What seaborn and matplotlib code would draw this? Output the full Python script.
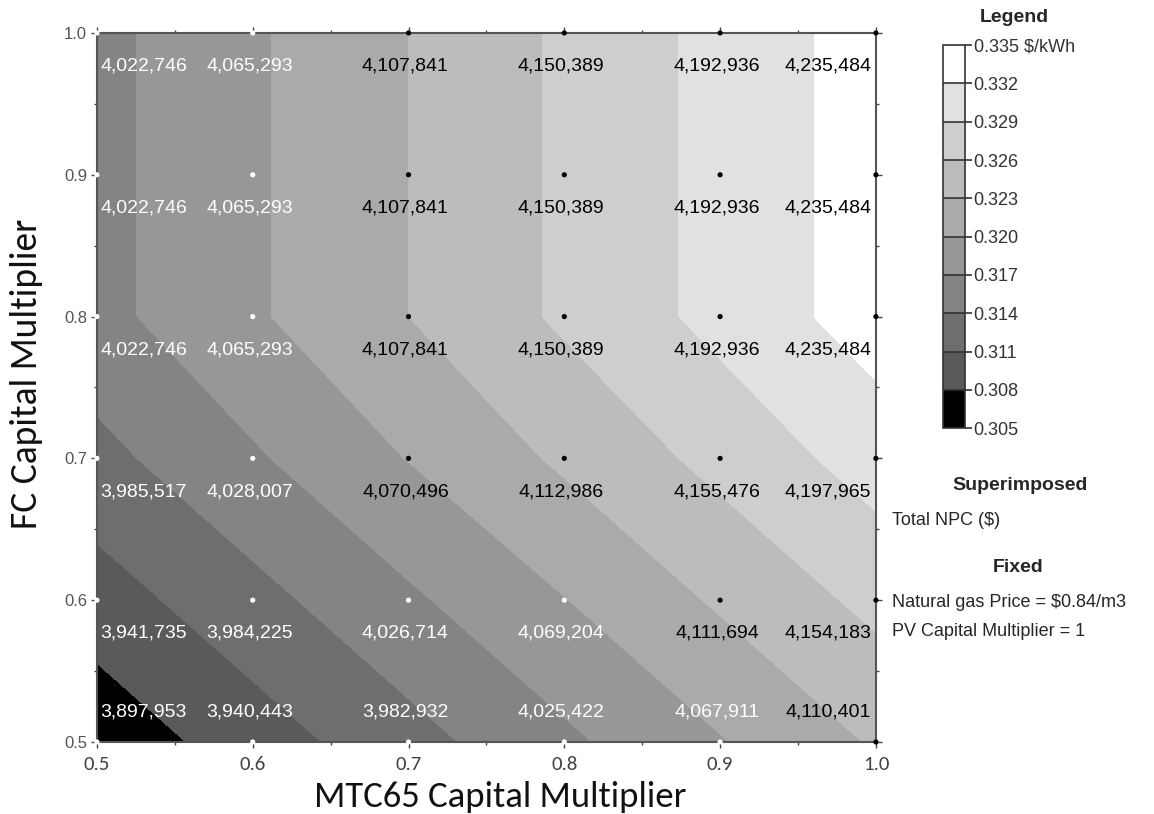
import numpy as np
import pandas as pd
import matplotlib
matplotlib.use("Agg")
import matplotlib.pyplot as plt
import seaborn as sns
from matplotlib.colors import ListedColormap, BoundaryNorm
from matplotlib.ticker import MultipleLocator

# Sensitivity grid: MTC65 capital multiplier (x) vs FC capital multiplier (y)
mtc_mult = [0.5, 0.6, 0.7, 0.8, 0.9, 1.0]
fc_mult = [0.5, 0.6, 0.7, 0.8, 0.9, 1.0]

# Total NPC ($), one row per FC multiplier (bottom to top)
npc_rows = [
    [3897953, 3940443, 3982932, 4025422, 4067911, 4110401],
    [3941735, 3984225, 4026714, 4069204, 4111694, 4154183],
    [3985517, 4028007, 4070496, 4112986, 4155476, 4197965],
    [4022746, 4065293, 4107841, 4150389, 4192936, 4235484],
    [4022746, 4065293, 4107841, 4150389, 4192936, 4235484],
    [4022746, 4065293, 4107841, 4150389, 4192936, 4235484],
]

# Levelized COE ($/kWh), estimated from the contour bands
coe_rows = [
    [0.3060, 0.3095, 0.3129, 0.3164, 0.3198, 0.3233],
    [0.3096, 0.3130, 0.3165, 0.3199, 0.3234, 0.3268],
    [0.3131, 0.3166, 0.3201, 0.3235, 0.3269, 0.3303],
    [0.3161, 0.3196, 0.3230, 0.3265, 0.3299, 0.3334],
    [0.3161, 0.3196, 0.3230, 0.3265, 0.3299, 0.3334],
    [0.3161, 0.3196, 0.3230, 0.3265, 0.3299, 0.3334],
]

levels = [0.305, 0.308, 0.311, 0.314, 0.317, 0.320, 0.323, 0.326, 0.329, 0.332, 0.335]
band_colors = ["#000000", "#5a5a5a", "#6e6e6e", "#848484", "#979797",
               "#aaaaaa", "#bcbcbc", "#cecece", "#e1e1e1", "#ffffff"]

sns.set_style("white")
plt.rcParams["font.family"] = ["Liberation Sans", "DejaVu Sans"]
label_font = ["Carlito", "Lato", "DejaVu Sans"]

fig = plt.figure(figsize=(11.54, 8.14), dpi=100)
ax = fig.add_axes([0.084, 0.0885, 0.675, 0.871])

cmap = ListedColormap(band_colors)
norm = BoundaryNorm(levels, cmap.N)
X, Y = np.meshgrid(mtc_mult, fc_mult)
coe = np.array(coe_rows)
cs = ax.contourf(X, Y, coe, levels=levels, cmap=cmap, norm=norm, antialiased=False)

# grid points + superimposed NPC values
rows = []
for j, fy in enumerate(fc_mult):
    for i, mx in enumerate(mtc_mult):
        rows.append({"x": mx, "y": fy, "npc": npc_rows[j][i],
                     "tone": "dark" if coe_rows[j][i] >= 0.320 else "light"})
df = pd.DataFrame(rows)

sns.scatterplot(data=df, x="x", y="y", hue="tone", palette={"dark": "black", "light": "white"},
                s=14, linewidth=0, legend=False, ax=ax, clip_on=False, zorder=3)

for _, r in df.iterrows():
    col = "black" if r["tone"] == "dark" else "white"
    if r["x"] == 0.5:
        tx, ha = 0.502, "left"
    elif r["x"] == 1.0:
        tx, ha = 0.997, "right"
    else:
        tx, ha = r["x"] - 0.002, "center"
    ty = 0.521 if r["y"] == 0.5 else r["y"] - 0.0235
    ax.text(tx, ty, f"{int(r['npc']):,}", color=col, ha=ha, va="center",
            fontsize=14, zorder=4)

ax.set_xlabel("")
ax.set_ylabel("")
ax.set_xlim(0.5, 1.0)
ax.set_ylim(0.5, 1.0)
ax.set_xticks(mtc_mult)
ax.set_yticks(fc_mult)
ax.set_xticklabels([f"{v:.1f}" for v in mtc_mult], fontsize=15, color="#444444",
                   family=label_font)
ax.set_yticklabels([f"{v:.1f}" for v in fc_mult], fontsize=12, color="#555555")
ax.xaxis.set_minor_locator(MultipleLocator(0.05))
ax.yaxis.set_minor_locator(MultipleLocator(0.05))
ax.tick_params(which="major", direction="out", length=4, width=1, color="#444444",
               bottom=True, left=True, top=True, right=True, pad=3)
ax.tick_params(axis="x", which="major", pad=6)
ax.tick_params(which="minor", direction="out", length=2.5, width=1, color="#444444",
               bottom=True, left=True, top=True, right=True)
for sp in ax.spines.values():
    sp.set_color("#555555")
    sp.set_linewidth(1.5)

fig.text(500 / 1154, 1 - 797 / 814, "MTC65 Capital Multiplier", fontsize=26.5,
         color="#111111", family=label_font, ha="center", va="center")
fig.text(27 / 1154, 1 - 374 / 814, "FC Capital Multiplier", fontsize=27, rotation=90,
         color="#111111", family=label_font, ha="center", va="center")

# colour legend
cax = fig.add_axes([0.817, 0.474, 0.0195, 0.4705])
cb = fig.colorbar(cs, cax=cax, ticks=levels, drawedges=True)
cb.outline.set_edgecolor("#333333")
cb.outline.set_linewidth(1.2)
cb.dividers.set_color("#333333")
cb.dividers.set_linewidth(1.2)
tick_labels = [f"{v:.3f}" for v in levels]
tick_labels[-1] = tick_labels[-1] + " $/kWh"
cb.set_ticklabels(tick_labels)
cax.tick_params(length=5, width=1.2, color="#333333", pad=1, labelsize=13, labelcolor="#333333")

fig.text(0.879, 0.979, "Legend", ha="center", va="center", fontsize=14, fontweight="bold")
fig.text(0.884, 0.404, "Superimposed", ha="center", va="center", fontsize=14, fontweight="bold")
fig.text(0.773, 0.361, "Total NPC ($)", ha="left", va="center", fontsize=13)
fig.text(0.882, 0.3034, "Fixed", ha="center", va="center", fontsize=14, fontweight="bold")
fig.text(0.773, 0.2604, "Natural gas Price = $0.84/m3", ha="left", va="center", fontsize=13)
fig.text(0.773, 0.2248, "PV Capital Multiplier = 1", ha="left", va="center", fontsize=13)

fig.savefig("out.png", dpi=100)
